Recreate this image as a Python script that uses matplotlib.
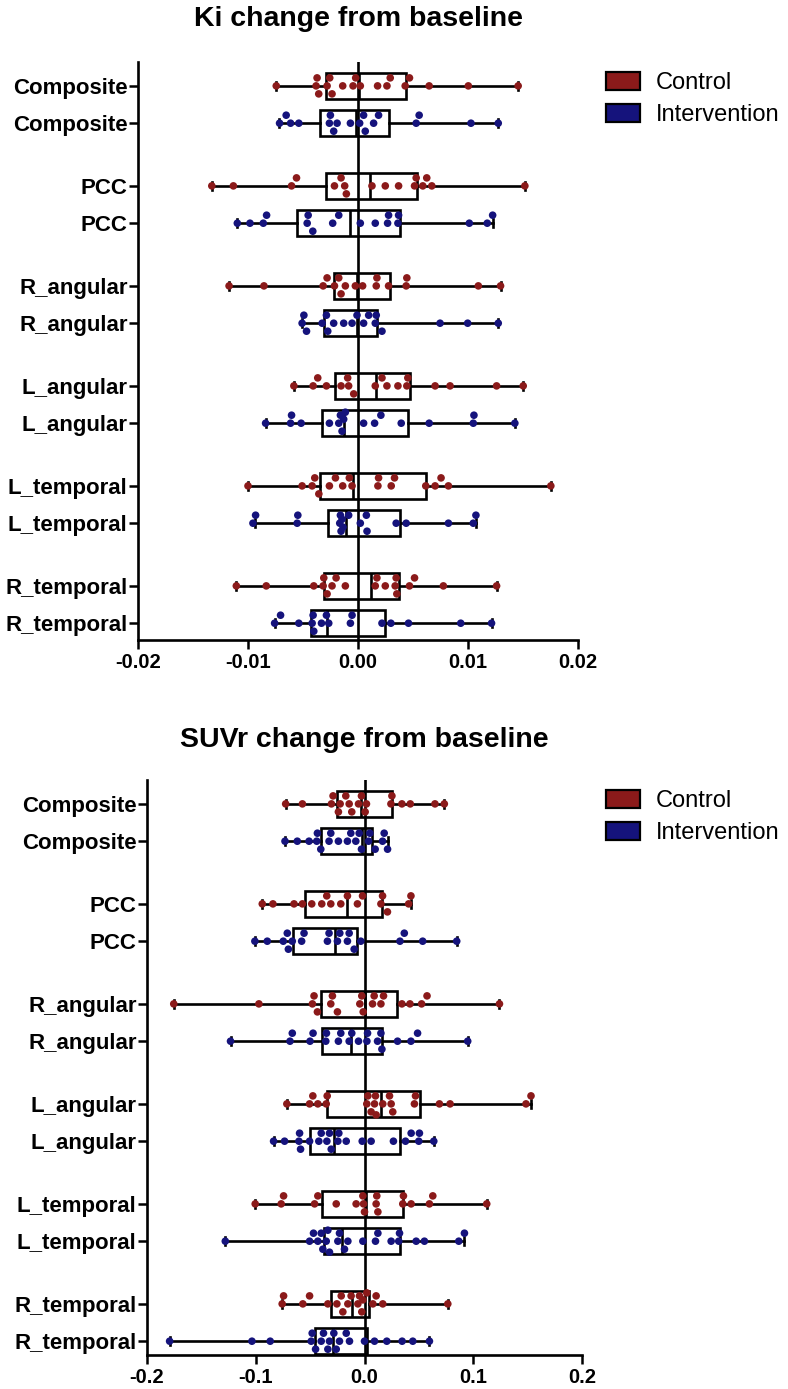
import numpy as np
import matplotlib
matplotlib.use("Agg")
import matplotlib.pyplot as plt
from matplotlib.patches import Patch

plt.rcParams['font.family'] = ['Liberation Sans', 'DejaVu Sans']
plt.rcParams['axes.unicode_minus'] = False

regions = ['Composite', 'PCC', 'R_angular', 'L_angular', 'L_temporal', 'R_temporal']
group_names = ['Control', 'Intervention']
color_ctrl = '#8B1A1A'
color_int = '#15137C'

# ---------------- Ki change from baseline ----------------
# box stats per region: [min, q1, median, q3, max]
ki_ctrl_box = [
    [-0.00743, -0.00290, 0.00010, 0.00435, 0.01456],
    [-0.01329, -0.00290, 0.00112, 0.00535, 0.01517],
    [-0.01172, -0.00221, -0.00009, 0.00293, 0.01296],
    [-0.00583, -0.00205, 0.00166, 0.00474, 0.01502],
    [-0.01000, -0.00350, -0.00045, 0.00619, 0.01753],
    [-0.01106, -0.00311, 0.00118, 0.00369, 0.01260],
]
ki_int_box = [
    [-0.00715, -0.00341, -0.00020, 0.00278, 0.01275],
    [-0.01097, -0.00559, -0.00076, 0.00378, 0.01224],
    [-0.00508, -0.00311, -0.00009, 0.00172, 0.01275],
    [-0.00840, -0.00326, -0.00130, 0.00450, 0.01426],
    [-0.00940, -0.00272, -0.00106, 0.00378, 0.01072],
    [-0.00758, -0.00423, -0.00281, 0.00242, 0.01214],
]
ki_ctrl_points = [
    [-0.00743, -0.00381, -0.00372, -0.00357, -0.00281, -0.00257, -0.00236, -0.00139, -0.00045,
     -0.00021, 0.00021, 0.00178, 0.00263, 0.00293, 0.00429, 0.00468, 0.00647, 0.01003, 0.01456],
    [-0.01329, -0.01133, -0.00604, -0.00559, -0.00214, -0.00154, -0.00121, -0.00106, 0.00127,
     0.00248, 0.00369, 0.00514, 0.00529, 0.00589, 0.00625, 0.00671, 0.01517],
    [-0.01172, -0.00855, -0.00317, -0.00281, -0.00214, -0.00175, -0.00154, -0.00115, -0.00024,
     0.00042, 0.00166, 0.00172, 0.00278, 0.00438, 0.00444, 0.01094, 0.01296],
    [-0.00583, -0.00408, -0.00366, -0.00287, -0.00154, -0.00094, -0.00085, -0.00039, 0.00157,
     0.00218, 0.00263, 0.00363, 0.00444, 0.00453, 0.00701, 0.00837, 0.01260, 0.01502],
    [-0.01000, -0.00508, -0.00417, -0.00393, -0.00356, -0.00260, -0.00205, -0.00139, -0.00079,
     -0.00054, 0.00181, 0.00187, 0.00302, 0.00332, 0.00616, 0.00701, 0.00755, 0.00822, 0.01753],
    [-0.01106, -0.00834, -0.00402, -0.00317, -0.00311, -0.00281, -0.00236, -0.00199, -0.00115,
     0.00157, 0.00172, 0.00248, 0.00338, 0.00347, 0.00353, 0.00468, 0.00514, 0.00776, 0.01260],
]
ki_int_points = [
    [-0.00713, -0.00653, -0.00613, -0.00538, -0.00260, -0.00251, -0.00221, -0.00190, -0.00069,
     0.00015, 0.00051, 0.00066, 0.00142, 0.00187, 0.00529, 0.00556, 0.01027, 0.01275],
    [-0.01097, -0.00982, -0.00861, -0.00831, -0.00462, -0.00453, -0.00411, -0.00230, -0.00175,
     0.00021, 0.00157, 0.00269, 0.00278, 0.00363, 0.00369, 0.01012, 0.01175, 0.01224],
    [-0.00508, -0.00492, -0.00468, -0.00326, -0.00287, -0.00275, -0.00221, -0.00130, -0.00054,
     -0.00009, 0.00051, 0.00097, 0.00157, 0.00166, 0.00218, 0.00746, 0.00997, 0.01275],
    [-0.00840, -0.00613, -0.00604, -0.00517, -0.00260, -0.00175, -0.00160, -0.00145, -0.00130,
     -0.00115, 0.00051, 0.00151, 0.00208, 0.00393, 0.00647, 0.01048, 0.01054, 0.01426],
    [-0.00955, -0.00931, -0.00553, -0.00547, -0.00166, -0.00160, -0.00154, -0.00145, -0.00136,
     -0.00085, 0.00021, 0.00076, 0.00082, 0.00347, 0.00438, 0.00822, 0.01048, 0.01072],
    [-0.00758, -0.00704, -0.00538, -0.00417, -0.00408, -0.00402, -0.00332, -0.00287, -0.00266,
     -0.00069, -0.00054, 0.00218, 0.00299, 0.00459, 0.00934, 0.01214],
]

# ---------------- SUVr change from baseline ----------------
suvr_ctrl_box = [
    [-0.0725, -0.0249, -0.0030, 0.0249, 0.0734],
    [-0.0940, -0.0547, -0.0157, 0.0160, 0.0427],
    [-0.1754, -0.0402, 0.0000, 0.0298, 0.1241],
    [-0.0714, -0.0343, 0.0153, 0.0511, 0.1531],
    [-0.1005, -0.0389, 0.0010, 0.0358, 0.1124],
    [-0.0757, -0.0312, -0.0116, 0.0037, 0.0766],
]
suvr_int_box = [
    [-0.0731, -0.0402, -0.0025, 0.0065, 0.0212],
    [-0.1008, -0.0654, -0.0270, -0.0065, 0.0848],
    [-0.1232, -0.0393, -0.0126, 0.0160, 0.0949],
    [-0.0836, -0.0505, -0.0285, 0.0328, 0.0637],
    [-0.1280, -0.0377, -0.0208, 0.0328, 0.0919],
    [-0.1792, -0.0459, -0.0291, 0.0025, 0.0597],
]
suvr_ctrl_points = [
    [-0.0725, -0.0571, -0.0304, -0.0289, -0.0240, -0.0224, -0.0172, -0.0141, -0.0117, -0.0055,
     -0.0028, 0.0006, 0.0018, 0.0243, 0.0252, 0.0344, 0.0421, 0.0648, 0.0734],
    [-0.0940, -0.0842, -0.0648, -0.0571, -0.0485, -0.0393, -0.0347, -0.0310, -0.0218, -0.0157,
     -0.0065, -0.0018, 0.0151, 0.0166, 0.0211, 0.0406, 0.0427],
    [-0.1754, -0.0971, -0.0479, -0.0464, -0.0433, -0.0310, -0.0295, -0.0249, -0.0043, -0.0025,
     -0.0012, 0.0074, 0.0089, 0.0151, 0.0175, 0.0344, 0.0418, 0.0525, 0.0575, 0.1241],
    [-0.0714, -0.0505, -0.0475, -0.0429, -0.0352, -0.0343, 0.0021, 0.0031, 0.0061, 0.0092,
     0.0101, 0.0107, 0.0168, 0.0230, 0.0245, 0.0260, 0.0459, 0.0469, 0.0689, 0.0787, 0.1485, 0.1531],
    [-0.1005, -0.0766, -0.0744, -0.0459, -0.0429, -0.0260, -0.0077, -0.0015, -0.0009, 0.0000,
     0.0107, 0.0113, 0.0123, 0.0352, 0.0358, 0.0429, 0.0597, 0.0628, 0.1124],
    [-0.0757, -0.0744, -0.0567, -0.0505, -0.0337, -0.0254, -0.0214, -0.0199, -0.0153, -0.0123,
     -0.0061, -0.0046, -0.0025, -0.0015, 0.0021, 0.0077, 0.0107, 0.0168, 0.0766],
]
suvr_int_points = [
    [-0.0731, -0.0618, -0.0510, -0.0439, -0.0433, -0.0402, -0.0326, -0.0310, -0.0240, -0.0157,
     -0.0126, -0.0080, -0.0049, -0.0028, 0.0037, 0.0049, 0.0098, 0.0166, 0.0181, 0.0212],
    [-0.1008, -0.0894, -0.0747, -0.0710, -0.0700, -0.0664, -0.0578, -0.0556, -0.0341, -0.0326,
     -0.0249, -0.0227, -0.0157, -0.0141, -0.0095, -0.0034, 0.0326, 0.0366, 0.0535, 0.0848],
    [-0.1232, -0.0685, -0.0664, -0.0501, -0.0473, -0.0356, -0.0350, -0.0240, -0.0218, -0.0141,
     -0.0117, -0.0055, 0.0022, 0.0028, 0.0120, 0.0151, 0.0160, 0.0304, 0.0427, 0.0488, 0.0949],
    [-0.0836, -0.0735, -0.0603, -0.0597, -0.0588, -0.0505, -0.0420, -0.0398, -0.0346, -0.0322,
     -0.0306, -0.0245, -0.0236, -0.0168, -0.0021, 0.0061, 0.0266, 0.0377, 0.0429, 0.0499, 0.0505, 0.0637],
    [-0.1280, -0.0505, -0.0469, -0.0429, -0.0398, -0.0383, -0.0352, -0.0337, -0.0322, -0.0245,
     -0.0230, -0.0184, -0.0153, -0.0015, 0.0101, 0.0123, 0.0245, 0.0315, 0.0322, 0.0475, 0.0551,
     0.0867, 0.0919],
    [-0.1792, -0.1035, -0.0867, -0.0490, -0.0481, -0.0450, -0.0398, -0.0377, -0.0337, -0.0322,
     -0.0282, -0.0260, -0.0230, -0.0168, -0.0138, 0.0000, 0.0092, 0.0205, 0.0346, 0.0444, 0.0597],
]

ki_ticks = [-0.02, -0.01, 0.0, 0.01, 0.02]
ki_ticklabels = ['-0.02', '-0.01', '0.00', '0.01', '0.02']
suvr_ticks = [-0.2, -0.1, 0.0, 0.1, 0.2]
suvr_ticklabels = ['-0.2', '-0.1', '0.0', '0.1', '0.2']

W, H = 788, 1389
fig = plt.figure(figsize=(W / 100, H / 100), dpi=100)

GROUP_STEP = 2.68


def swarm_offsets(ax, vals, ypos, diam=7.0):
    """Simple deterministic beeswarm: returns y offsets (data units)."""
    tr = ax.transData
    x0 = tr.transform((0, ypos))
    x1 = tr.transform((1, ypos))
    xscale = x1[0] - x0[0]
    ys = tr.transform((0, ypos + 1))[1] - x0[1]
    yscale = abs(ys)
    vals = np.asarray(vals)
    order = np.argsort(vals)
    placed = []
    offs = np.zeros(len(vals))
    cands = [0, -8, 8, -4, 4, -11, 11]
    for i in order:
        x = vals[i] * xscale
        best_c, best_d = 0, -1
        chosen = None
        for c in cands:
            dmin = min([np.hypot(x - px, c - py) for px, py in placed], default=1e9)
            if dmin >= diam:
                chosen = c
                break
            if dmin > best_d:
                best_d, best_c = dmin, c
        if chosen is None:
            chosen = best_c
        placed.append((x, chosen))
        offs[i] = chosen / yscale
    return offs


def panel(rect, title, ctrl_box, int_box, ctrl_pts, int_pts, ticks, ticklabels, xlim, title_pad, ylim_bottom):
    ax = fig.add_axes(rect)
    ax.set_xlim(*xlim)
    ax.set_ylim(ylim_bottom, -0.64)
    pos_ctrl = [g * GROUP_STEP for g in range(len(regions))]
    pos_int = [g * GROUP_STEP + 1 for g in range(len(regions))]

    stats = []
    positions = []
    for g in range(len(regions)):
        for box, p in ((ctrl_box[g], pos_ctrl[g]), (int_box[g], pos_int[g])):
            stats.append(dict(whislo=box[0], q1=box[1], med=box[2], q3=box[3], whishi=box[4], fliers=[]))
            positions.append(p)
    lw = 1.9
    kw = dict(positions=positions, widths=0.70, capwidths=0.22, showfliers=False,
              patch_artist=True,
              boxprops=dict(facecolor='white', edgecolor='black', linewidth=lw),
              whiskerprops=dict(color='black', linewidth=lw),
              capprops=dict(color='black', linewidth=lw),
              medianprops=dict(color='black', linewidth=lw), manage_ticks=False)
    try:
        ax.bxp(stats, orientation='horizontal', **kw)
    except TypeError:
        ax.bxp(stats, vert=False, **kw)

    ax.axvline(0, color='black', linewidth=lw, zorder=2.5)

    for g in range(len(regions)):
        for pts, p, col in ((ctrl_pts[g], pos_ctrl[g], color_ctrl), (int_pts[g], pos_int[g], color_int)):
            offs = swarm_offsets(ax, pts, p)
            ax.scatter(pts, np.array([p] * len(pts)) + offs, s=30, color=col, edgecolors='none', zorder=3)

    yt = []
    yl = []
    for g in range(len(regions)):
        yt += [pos_ctrl[g], pos_int[g]]
        yl += [regions[g], regions[g]]
    ax.set_yticks(yt)
    ax.set_yticklabels(yl, fontsize=16, fontweight='bold')
    ax.set_xticks(ticks)
    ax.set_xticklabels(ticklabels, fontsize=14.5, fontweight='bold')
    ax.tick_params(axis='both', length=6.5, width=1.8, color='black', pad=3)
    ax.tick_params(axis='y', pad=1)
    for s in ('top', 'right'):
        ax.spines[s].set_visible(False)
    for s in ('left', 'bottom'):
        ax.spines[s].set_linewidth(1.9)
    ax.set_title(title, fontsize=20.5, fontweight='bold', pad=title_pad)
    return ax


ax1 = panel([138 / W, 1 - 640 / H, 440 / W, (640 - 62) / H], 'Ki change from baseline',
            ki_ctrl_box, ki_int_box, ki_ctrl_points, ki_int_points,
            ki_ticks, ki_ticklabels, (-0.02, 0.02), 26, 14.85)
ax2 = panel([147 / W, 1 - 1355 / H, 435 / W, (1355 - 780) / H], 'SUVr change from baseline',
            suvr_ctrl_box, suvr_int_box, suvr_ctrl_points, suvr_int_points,
            suvr_ticks, suvr_ticklabels, (-0.2, 0.2), 24, 14.77)

handles = [Patch(facecolor=color_ctrl, edgecolor='black', linewidth=1.6),
           Patch(facecolor=color_int, edgecolor='black', linewidth=1.6)]
for ytop in (72, 790):
    fig.legend(handles, group_names, loc='upper left', bbox_to_anchor=(606 / W, 1 - ytop / H),
               frameon=False, fontsize=17, handlelength=1.45, handleheight=0.78,
               handletextpad=0.65, labelspacing=0.42, borderpad=0, borderaxespad=0)

fig.savefig('out.png', dpi=100)
